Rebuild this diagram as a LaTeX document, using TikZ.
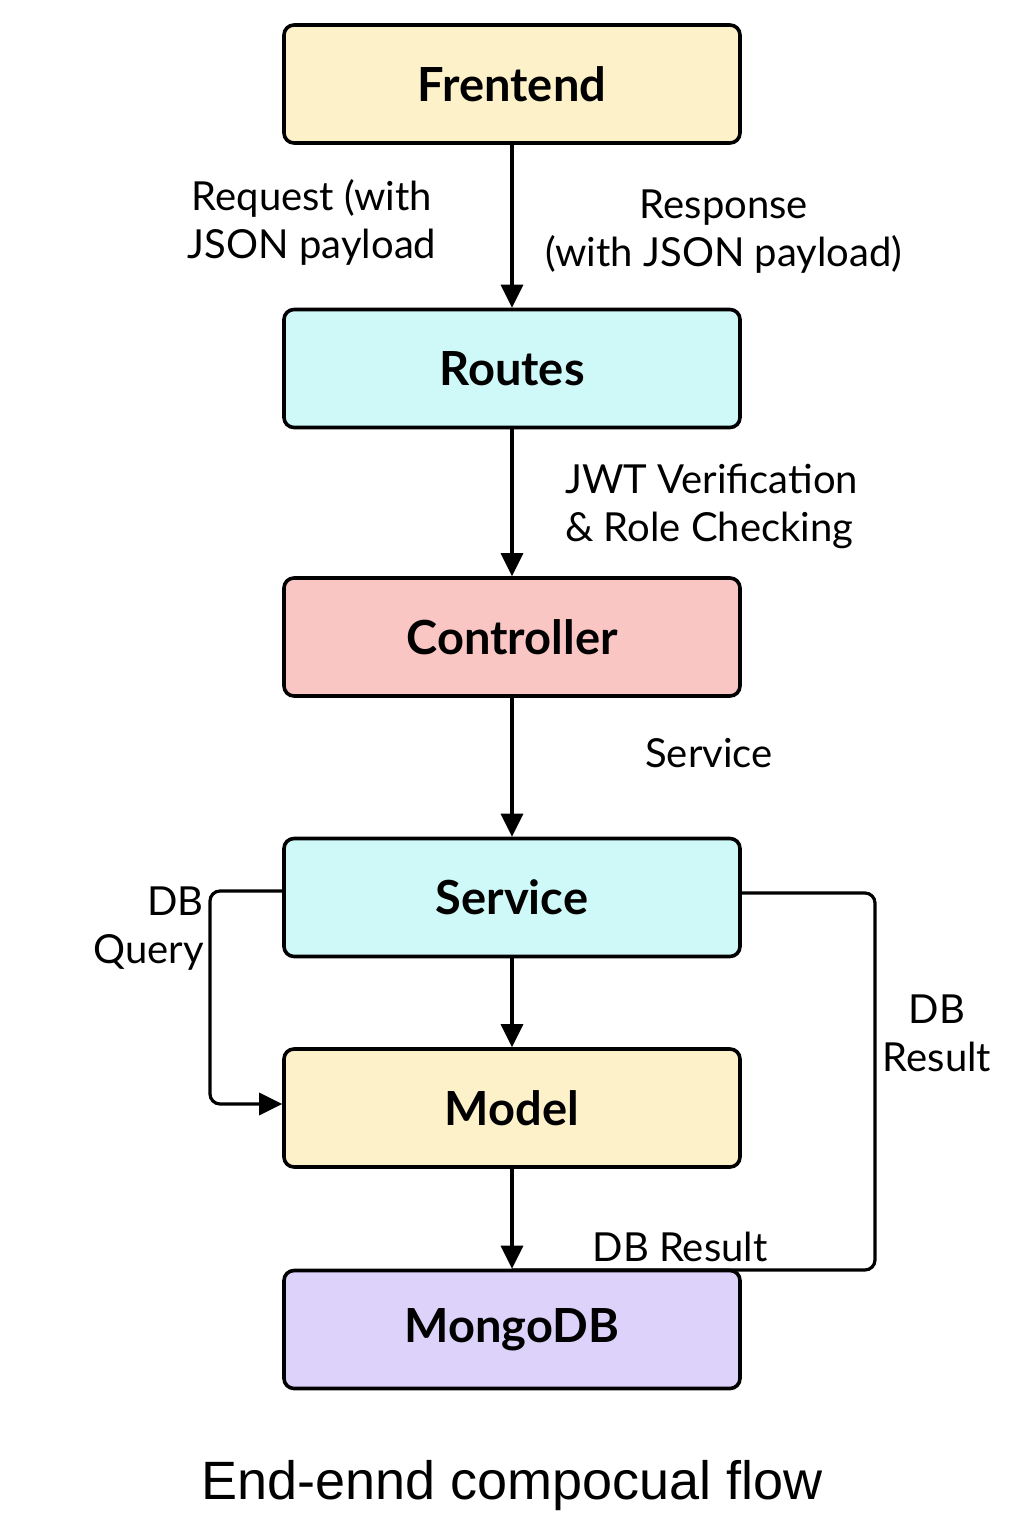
\documentclass[tikz,border=0pt]{standalone}
\usepackage{fontspec}
\setmainfont{Lato}[BoldFont={* Bold}]
\newfontfamily\titlefont{Liberation Sans}
\usetikzlibrary{arrows.meta}
\definecolor{cyellow}{HTML}{FDF1C9}
\definecolor{ccyan}{HTML}{CFF8F8}
\definecolor{cpink}{HTML}{F9C6C4}
\definecolor{clav}{HTML}{DDD3FA}
\tikzset{
  box/.style={draw=black, line width=3.6pt, rounded corners=10pt, minimum width=456pt, minimum height=118pt, inner sep=0pt, font=\fontsize{47}{50}\selectfont\bfseries},
  conn/.style={line width=3.2pt, -{Triangle[length=23pt,width=22pt]}},
  plain/.style={line width=3.2pt, rounded corners=10pt},
  lbl/.style={font=\fontsize{40}{48}\selectfont, inner sep=0pt}
}
\begin{document}
\begin{tikzpicture}[x=1pt,y=-1pt]
\useasboundingbox[fill=white] (0,0) rectangle (1024,1536);
\node[box, fill=cyellow] (fe) at (512,84) {Frentend};
\node[box, fill=ccyan] (rt) at (512,368.5) {Routes};
\node[box, fill=cpink] (ct) at (512,637) {Controller};
\node[box, fill=ccyan] (sv) at (512,897.5) {Service};
\node[box, fill=cyellow] (md) at (512,1108) {Model};
\node[box, fill=clav] (mg) at (512,1329.5) {MongoDB};
\draw[conn] (fe) -- (rt);
\draw[conn] (rt) -- (ct);
\draw[conn] (ct) -- (sv);
\draw[conn] (sv) -- (md);
\draw[conn] (md) -- (mg);
\coordinate (ql) at (210,1104);
\coordinate (rr) at (875,1270);
\draw[conn, rounded corners=10pt] (sv.west |- 0,891) -| (ql) -- (md.west |- ql);
\draw[plain] (sv.east |- 0,893) -| (rr) -- (rr -| mg.north);
\node[lbl, align=center] (l1) at (312,222) {Request (with\\JSON payload};
\node[lbl, align=center] (l2) at (724,232) {Response\\(with JSON payload)};
\node[lbl, align=left, anchor=west] (l3) at (565,506) {JWT Verification\\\& Role Checking};
\node[lbl] (l4) at (709,753) {Service};
\node[lbl, align=right, anchor=east] (l5) at (204,929) {DB\\Query};
\node[lbl, align=center] (l6) at (937,1033) {DB\\Result};
\node[lbl] (l7) at (680,1247) {DB Result};
\node[font=\titlefont\fontsize{54}{60}\selectfont, inner sep=0pt] (title) at (512,1486) {End-ennd compocual flow};
\end{tikzpicture}
\end{document}
